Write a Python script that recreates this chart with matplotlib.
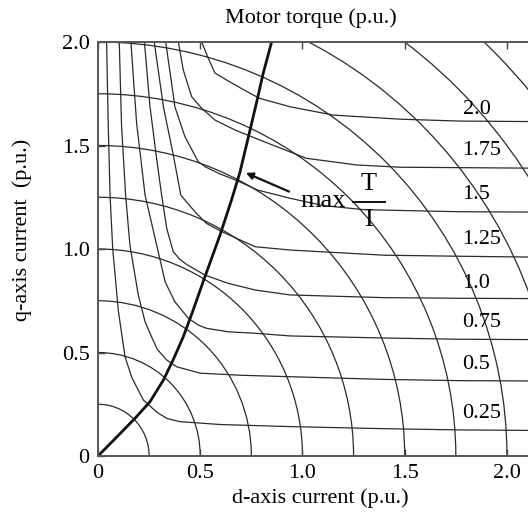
import matplotlib
matplotlib.use("Agg")
import matplotlib.pyplot as plt
from matplotlib.patches import Arc
import numpy as np

#-- current circles (p.u.)
radii = [0.25, 0.5, 0.75, 1.0, 1.25, 1.5, 1.75, 2.0, 2.25, 2.5, 2.75, 3.0]

#-- torque contours (id, iq)
torque_levels = ["0.25", "0.5", "0.75", "1.0", "1.25", "1.5", "1.75", "2.0"]
t025_d = [0.042, 0.05, 0.059, 0.072, 0.099, 0.132, 0.165, 0.222, 0.29, 0.336, 0.40, 0.6, 0.94, 1.4, 1.77, 2.2]
t025_q = [2.0, 1.6, 1.26, 1.0, 0.705, 0.48, 0.38, 0.27, 0.21, 0.182, 0.166, 0.152, 0.142, 0.132, 0.126, 0.123]
t050_d = [0.104, 0.115, 0.135, 0.156, 0.197, 0.23, 0.262, 0.29, 0.336, 0.385, 0.5, 0.7, 0.94, 1.4, 1.77, 2.2]
t050_q = [2.0, 1.6, 1.261, 1.019, 0.778, 0.649, 0.576, 0.515, 0.464, 0.431, 0.40, 0.39, 0.383, 0.37, 0.364, 0.362]
t075_d = [0.161, 0.175, 0.189, 0.23, 0.287, 0.328, 0.376, 0.442, 0.49, 0.53, 0.637, 0.768, 0.94, 1.4, 1.77, 2.2]
t075_q = [2.0, 1.8, 1.607, 1.261, 1.019, 0.842, 0.745, 0.665, 0.633, 0.617, 0.60, 0.593, 0.58, 0.57, 0.564, 0.562]
t100_d = [0.227, 0.254, 0.285, 0.311, 0.336, 0.368, 0.40, 0.434, 0.523, 0.637, 0.768, 0.94, 1.4, 1.77, 2.2]
t100_q = [2.0, 1.69, 1.45, 1.261, 1.1, 0.987, 0.95, 0.925, 0.874, 0.834, 0.802, 0.778, 0.765, 0.762, 0.76]
t125_d = [0.275, 0.32, 0.369, 0.405, 0.474, 0.53, 0.605, 0.768, 0.94, 1.4, 1.77, 2.2]
t125_q = [2.0, 1.687, 1.45, 1.26, 1.18, 1.124, 1.084, 1.011, 0.995, 0.97, 0.965, 0.96]
t150_d = [0.331, 0.36, 0.376, 0.425, 0.49, 0.523, 0.589, 0.68, 0.78, 0.94, 1.1, 1.3, 1.77, 2.2]
t150_q = [2.0, 1.8, 1.687, 1.543, 1.422, 1.398, 1.366, 1.33, 1.285, 1.245, 1.21, 1.19, 1.18, 1.178]
t175_d = [0.393, 0.417, 0.458, 0.507, 0.572, 0.67, 0.79, 1.02, 1.265, 1.477, 1.77, 2.2]
t175_q = [2.0, 1.865, 1.736, 1.68, 1.623, 1.575, 1.527, 1.438, 1.406, 1.395, 1.393, 1.39]
t200_d = [0.507, 0.54, 0.572, 0.64, 0.72, 0.79, 0.94, 1.15, 1.48, 1.77, 2.2]
t200_q = [2.0, 1.92, 1.85, 1.81, 1.765, 1.728, 1.687, 1.647, 1.627, 1.618, 1.615]

#-- label position of each torque level (left edge, centre)
label_d = 1.783
label_q = [0.203, 0.444, 0.645, 0.834, 1.046, 1.261, 1.476, 1.676]

#-- maximum torque per ampere curve
mtpa_d = [0, 0.09, 0.181, 0.254, 0.32, 0.37, 0.417, 0.46, 0.523, 0.597, 0.654, 0.694, 0.74, 0.776, 0.808, 0.849]
mtpa_q = [0, 0.09, 0.182, 0.262, 0.367, 0.47, 0.576, 0.69, 0.866, 1.068, 1.24, 1.37, 1.56, 1.71, 1.849, 2.0]

ticks = [0, 0.5, 1.0, 1.5, 2.0]
tick_labels = ["0", "0.5", "1.0", "1.5", "2.0"]

plt.rcParams["font.family"] = "Liberation Serif"

fig = plt.figure(figsize=(5.28, 5.18), dpi=100)
ax = fig.add_axes([98 / 528, 62 / 518, 430 / 528, 414 / 518])

line_c = "#2a2a2a"
for r in radii:
    ax.add_patch(Arc((0, 0), 2 * r, 2 * r, theta1=0, theta2=90,
                     color=line_c, lw=0.9))

curves = [(t025_d, t025_q), (t050_d, t050_q), (t075_d, t075_q), (t100_d, t100_q),
          (t125_d, t125_q), (t150_d, t150_q), (t175_d, t175_q), (t200_d, t200_q)]
for (d, q) in curves:
    ax.plot(d, q, color=line_c, lw=0.9)

for lab, yq in zip(torque_levels, label_q):
    ax.text(label_d, yq, lab, fontsize=16, va="center", ha="left")

ax.plot(mtpa_d, mtpa_q, color="#111111", lw=2.0)

#-- max T/I annotation
ax.annotate("", xy=(0.711, 1.373), xytext=(0.947, 1.272),
            arrowprops=dict(arrowstyle="-|>", color="#111111", lw=1.6,
                            mutation_scale=10))
ax.text(0.99, 1.232, "max", fontsize=19, va="center", ha="left")
ax.text(1.325, 1.312, "T", fontsize=19, va="center", ha="center")
ax.text(1.325, 1.138, "I", fontsize=19, va="center", ha="center")
ax.plot([1.247, 1.403], [1.228, 1.228], color="#111111", lw=1.4)

ax.set_xlim(0, 2.103)
ax.set_ylim(0, 2.0)
ax.set_xticks(ticks)
ax.set_xticklabels(tick_labels)
ax.set_yticks(ticks)
ax.set_yticklabels(tick_labels)
ax.tick_params(direction="in", length=5, width=1, colors="#444444",
               labelcolor="black", labelsize=16, top=True, pad=6)
ax.spines["right"].set_visible(False)
for s in ["left", "bottom", "top"]:
    ax.spines[s].set_color("#555555")
    ax.spines[s].set_linewidth(1.4)

fig.text(311 / 528, 1 - 18 / 518, "Motor torque (p.u.)", fontsize=16,
         ha="center", va="center")
fig.text(320 / 528, 1 - 498 / 518, "d-axis current (p.u.)", fontsize=16,
         ha="center", va="center")
fig.text(22 / 528, 1 - 230 / 518, "q-axis current  (p.u.)", fontsize=16,
         ha="center", va="center", rotation=90)

fig.savefig("out.png", dpi=100)
